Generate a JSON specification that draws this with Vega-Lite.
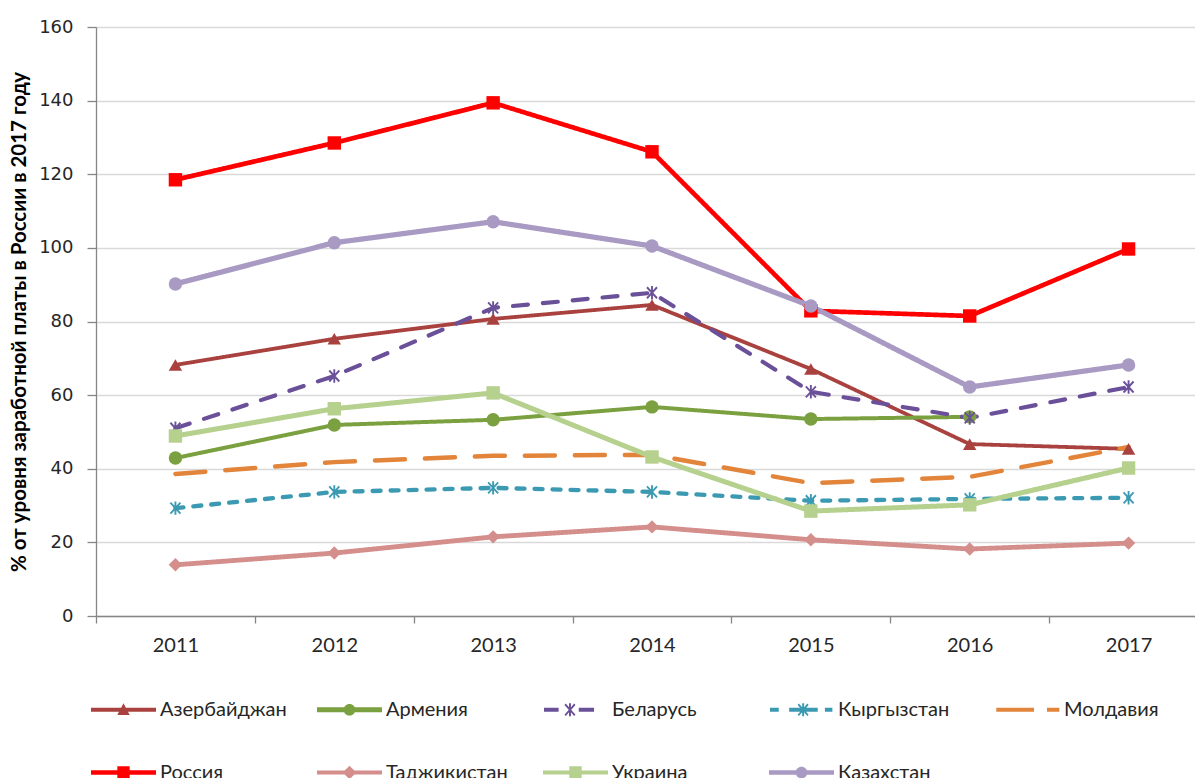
{
  "$schema": "https://vega.github.io/schema/vega-lite/v6.json",
  "width": 1099,
  "height": 589,
  "autosize": {"type": "none"},
  "padding": {"left": 96, "top": 27, "right": 0, "bottom": 162},
  "background": "white",
  "config": {"view": {"stroke": null}, "font": "Lato"},
  "data": {
    "values": [
      {"country": "Азербайджан", "year": "2011", "value": 68.2},
      {"country": "Азербайджан", "year": "2012", "value": 75.3},
      {"country": "Азербайджан", "year": "2013", "value": 80.7},
      {"country": "Азербайджан", "year": "2014", "value": 84.5},
      {"country": "Азербайджан", "year": "2015", "value": 67.1},
      {"country": "Азербайджан", "year": "2016", "value": 46.7},
      {"country": "Азербайджан", "year": "2017", "value": 45.4},
      {"country": "Армения", "year": "2011", "value": 42.9},
      {"country": "Армения", "year": "2012", "value": 51.9},
      {"country": "Армения", "year": "2013", "value": 53.3},
      {"country": "Армения", "year": "2014", "value": 56.8},
      {"country": "Армения", "year": "2015", "value": 53.5},
      {"country": "Армения", "year": "2016", "value": 54.1},
      {"country": "Беларусь", "year": "2011", "value": 51.0},
      {"country": "Беларусь", "year": "2012", "value": 65.2},
      {"country": "Беларусь", "year": "2013", "value": 83.7},
      {"country": "Беларусь", "year": "2014", "value": 87.8},
      {"country": "Беларусь", "year": "2015", "value": 60.9},
      {"country": "Беларусь", "year": "2016", "value": 53.8},
      {"country": "Беларусь", "year": "2017", "value": 62.2},
      {"country": "Кыргызстан", "year": "2011", "value": 29.3},
      {"country": "Кыргызстан", "year": "2012", "value": 33.7},
      {"country": "Кыргызстан", "year": "2013", "value": 34.8},
      {"country": "Кыргызстан", "year": "2014", "value": 33.7},
      {"country": "Кыргызстан", "year": "2015", "value": 31.3},
      {"country": "Кыргызстан", "year": "2016", "value": 31.8},
      {"country": "Кыргызстан", "year": "2017", "value": 32.1},
      {"country": "Молдавия", "year": "2011", "value": 38.6},
      {"country": "Молдавия", "year": "2012", "value": 41.8},
      {"country": "Молдавия", "year": "2013", "value": 43.5},
      {"country": "Молдавия", "year": "2014", "value": 43.8},
      {"country": "Молдавия", "year": "2015", "value": 36.1},
      {"country": "Молдавия", "year": "2016", "value": 37.8},
      {"country": "Молдавия", "year": "2017", "value": 45.9},
      {"country": "Россия", "year": "2011", "value": 118.5},
      {"country": "Россия", "year": "2012", "value": 128.5},
      {"country": "Россия", "year": "2013", "value": 139.4},
      {"country": "Россия", "year": "2014", "value": 126.1},
      {"country": "Россия", "year": "2015", "value": 82.9},
      {"country": "Россия", "year": "2016", "value": 81.5},
      {"country": "Россия", "year": "2017", "value": 99.7},
      {"country": "Таджикистан", "year": "2011", "value": 13.9},
      {"country": "Таджикистан", "year": "2012", "value": 17.1},
      {"country": "Таджикистан", "year": "2013", "value": 21.5},
      {"country": "Таджикистан", "year": "2014", "value": 24.2},
      {"country": "Таджикистан", "year": "2015", "value": 20.7},
      {"country": "Таджикистан", "year": "2016", "value": 18.2},
      {"country": "Таджикистан", "year": "2017", "value": 19.8},
      {"country": "Украина", "year": "2011", "value": 48.9},
      {"country": "Украина", "year": "2012", "value": 56.3},
      {"country": "Украина", "year": "2013", "value": 60.6},
      {"country": "Украина", "year": "2014", "value": 43.2},
      {"country": "Украина", "year": "2015", "value": 28.5},
      {"country": "Украина", "year": "2016", "value": 30.2},
      {"country": "Украина", "year": "2017", "value": 40.2},
      {"country": "Казахстан", "year": "2011", "value": 90.2},
      {"country": "Казахстан", "year": "2012", "value": 101.4},
      {"country": "Казахстан", "year": "2013", "value": 107.1},
      {"country": "Казахстан", "year": "2014", "value": 100.5},
      {"country": "Казахстан", "year": "2015", "value": 84.2},
      {"country": "Казахстан", "year": "2016", "value": 62.2},
      {"country": "Казахстан", "year": "2017", "value": 68.2}
    ]
  },
  "encoding": {
    "x": {
      "field": "year", "type": "ordinal",
      "scale": {"type": "band", "range": [0, 1112], "paddingInner": 0, "paddingOuter": 0},
      "axis": {
        "title": null, "tickBand": "extent", "labelAngle": 0, "grid": false,
        "labelFont": "Lato", "labelFontSize": 20, "labelColor": "#262626", "labelPadding": 12,
        "tickSize": 7, "tickColor": "#868686", "tickWidth": 1.3,
        "domainColor": "#868686", "domainWidth": 1.3
      }
    },
    "y": {
      "field": "value", "type": "quantitative",
      "scale": {"domain": [0, 160], "nice": false},
      "axis": {
        "title": "% от уровня заработной платы в России в 2017 году",
        "titleFont": "Lato", "titleFontSize": 20.5, "titleFontWeight": "bold", "titleColor": "#000000", "titlePadding": 9,
        "values": [0, 20, 40, 60, 80, 100, 120, 140, 160],
        "labelFont": "DejaVu Sans", "labelFontSize": 18, "labelColor": "#262626", "labelPadding": 14,
        "tickSize": 9, "tickColor": "#868686", "tickWidth": 1.3,
        "domainColor": "#868686", "domainWidth": 1.3,
        "gridColor": "#D9D9D9", "gridWidth": 1.3
      }
    }
  },
  "layer": [
    {
      "mark": {"type": "line", "strokeJoin": "round", "strokeCap": "round"},
      "encoding": {
        "color": {
          "field": "country", "type": "nominal", "legend": null,
          "scale": {
            "domain": ["Азербайджан", "Армения", "Беларусь", "Кыргызстан", "Молдавия", "Россия", "Таджикистан", "Украина", "Казахстан"],
            "range": ["#A9423F", "#7AA040", "#6A5098", "#3B9AB2", "#E2843A", "#FF0000", "#D48E8C", "#B6D08E", "#A99AC4"]
          }
        },
        "strokeDash": {
          "field": "country", "type": "nominal", "legend": null,
          "scale": {
            "domain": ["Азербайджан", "Армения", "Беларусь", "Кыргызстан", "Молдавия", "Россия", "Таджикистан", "Украина", "Казахстан"],
            "range": [[1, 0], [1, 0], [15, 15], [8, 10], [30, 20], [1, 0], [1, 0], [1, 0], [1, 0]]
          }
        },
        "strokeWidth": {
          "field": "country", "type": "nominal", "legend": null,
          "scale": {
            "domain": ["Азербайджан", "Армения", "Беларусь", "Кыргызстан", "Молдавия", "Россия", "Таджикистан", "Украина", "Казахстан"],
            "range": [3.8, 5.2, 4, 4, 4, 4.6, 3.8, 3.8, 4.2]
          }
        }
      }
    },
    {
      "transform": [{"filter": "datum.country !== 'Молдавия'"}],
      "mark": {"type": "point", "filled": true, "opacity": 1, "size": 180},
      "encoding": {
        "color": {
          "field": "country", "type": "nominal", "legend": null,
          "scale": {
            "domain": ["Азербайджан", "Армения", "Беларусь", "Кыргызстан", "Молдавия", "Россия", "Таджикистан", "Украина", "Казахстан"],
            "range": ["#A9423F", "#7AA040", "#6A5098", "#3B9AB2", "#E2843A", "#FF0000", "#D48E8C", "#B6D08E", "#A99AC4"]
          }
        },
        "shape": {
          "field": "country", "type": "nominal", "legend": null,
          "scale": {
            "domain": ["Азербайджан", "Армения", "Беларусь", "Кыргызстан", "Россия", "Таджикистан", "Украина", "Казахстан"],
            "range": [
              "triangle-up", "circle",
              "M-0.14,-1H0.14V1H-0.14Z M-0.85,-0.72L-0.65,-0.92L0.85,0.72L0.65,0.92Z M-0.85,0.72L0.65,-0.92L0.85,-0.72L-0.65,0.92Z",
              "M-0.14,-1H0.14V1H-0.14Z M-0.85,-0.72L-0.65,-0.92L0.85,0.72L0.65,0.92Z M-0.85,0.72L0.65,-0.92L0.85,-0.72L-0.65,0.92Z",
              "square", "diamond", "square", "circle"
            ]
          }
        }
      }
    },
    {
      "mark": {"type": "point", "filled": true, "opacity": 0},
      "encoding": {
        "color": {
          "field": "country", "type": "nominal",
          "scale": {
            "domain": ["Азербайджан", "Армения", "Беларусь", "Кыргызстан", "Молдавия", "Россия", "Таджикистан", "Украина", "Казахстан"],
            "range": ["#A9423F", "#7AA040", "#6A5098", "#3B9AB2", "#E2843A", "#FF0000", "#D48E8C", "#B6D08E", "#A99AC4"]
          },
          "legend": {
            "title": null, "orient": "none", "legendX": -5, "legendY": 650, "direction": "horizontal",
            "columns": 5, "gridAlign": "all", "columnPadding": 30, "rowPadding": 20,
            "symbolSize": 4225, "symbolStrokeWidth": 0, "symbolOpacity": 1,
            "labelFont": "Lato", "labelFontSize": 20, "labelColor": "#262626", "labelOffset": 4, "labelLimit": 300, "padding": 0
          }
        },
        "shape": {
          "field": "country", "type": "nominal",
          "scale": {
            "domain": ["Азербайджан", "Армения", "Беларусь", "Кыргызстан", "Молдавия", "Россия", "Таджикистан", "Украина", "Казахстан"],
            "range": [
              "M-1,-0.062H1V0.062H-1Z M0,-0.2L0.19,0.16H-0.19Z",
              "M-1,-0.075H1V0.075H-1Z M-0.18,0A0.18,0.18 0 1,1 0.18,0A0.18,0.18 0 1,1 -0.18,0Z",
              "M-0.97,-0.062H-0.52V0.062H-0.97Z M0.1,-0.062H0.57V0.062H0.1Z M-0.2,-0.2H-0.14V0.2H-0.2Z M-0.34,-0.15L-0.3,-0.19L0,0.15L-0.04,0.19Z M-0.34,0.15L-0.04,-0.19L0,-0.15L-0.3,0.19Z",
              "M-0.97,-0.062H-0.7V0.062H-0.97Z M-0.38,-0.062H0.5V0.062H-0.38Z M0.72,-0.062H0.95V0.062H0.72Z M0.02,-0.2H0.08V0.2H0.02Z M-0.12,-0.15L-0.08,-0.19L0.22,0.15L0.18,0.19Z M-0.12,0.15L0.18,-0.19L0.22,-0.15L-0.08,0.19Z",
              "M-0.96,-0.062H0.2V0.062H-0.96Z M0.6,-0.062H0.98V0.062H0.6Z",
              "M-1,-0.07H1V0.07H-1Z M-0.19,-0.19H0.19V0.19H-0.19Z",
              "M-1,-0.062H1V0.062H-1Z M0,-0.21L0.21,0L0,0.21L-0.21,0Z",
              "M-1,-0.062H1V0.062H-1Z M-0.19,-0.19H0.19V0.19H-0.19Z",
              "M-1,-0.068H1V0.068H-1Z M-0.18,0A0.18,0.18 0 1,1 0.18,0A0.18,0.18 0 1,1 -0.18,0Z"
            ]
          },
          "legend": {
            "title": null, "orient": "none", "legendX": -5, "legendY": 650, "direction": "horizontal",
            "columns": 5, "gridAlign": "all", "columnPadding": 30, "rowPadding": 20,
            "symbolSize": 4225, "symbolStrokeWidth": 0, "symbolOpacity": 1,
            "labelFont": "Lato", "labelFontSize": 20, "labelColor": "#262626", "labelOffset": 4, "labelLimit": 300, "padding": 0
          }
        }
      }
    }
  ],
  "resolve": {
    "scale": {"color": "independent", "shape": "independent", "strokeDash": "independent", "strokeWidth": "independent"},
    "legend": {"color": "independent", "shape": "independent"}
  }
}
